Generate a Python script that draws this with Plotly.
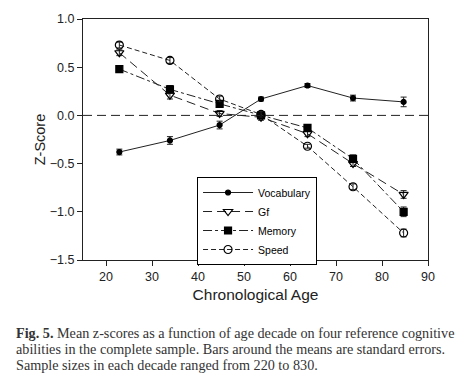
import plotly.graph_objects as go

ages = [22.9, 33.9, 44.7, 53.7, 63.8, 73.7, 84.7]
vocabulary = [-0.38, -0.26, -0.10, 0.17, 0.31, 0.18, 0.14]
vocabulary_se = [0.03, 0.04, 0.04, 0.02, 0.02, 0.03, 0.05]
gf = [0.65, 0.21, 0.02, -0.02, -0.19, -0.50, -0.82]
gf_se = [0.03, 0.04, 0.03, 0.03, 0.03, 0.03, 0.04]
memory = [0.48, 0.27, 0.12, 0.00, -0.13, -0.45, -1.00]
memory_se = [0.03, 0.04, 0.03, 0.03, 0.03, 0.04, 0.05]
speed = [0.73, 0.57, 0.17, 0.01, -0.32, -0.74, -1.22]
speed_se = [0.03, 0.03, 0.03, 0.03, 0.02, 0.03, 0.04]

x_ticks = [20, 30, 40, 50, 60, 70, 80, 90]
y_ticks = [-1.5, -1.0, -0.5, 0.0, 0.5, 1.0]

series = [
    ("Vocabulary", vocabulary, vocabulary_se, "solid", "circle", 5),
    ("Gf", gf, gf_se, "9px,5px", "triangle-down-open", 8),
    ("Memory", memory, memory_se, "9px,3px,3px,3px", "square", 7),
    ("Speed", speed, speed_se, "5px,3px", "circle-open", 8),
]

fig = go.Figure()
for name, vals, se, dash, sym, size in series:
    fig.add_trace(go.Scatter(
        x=ages, y=vals, name=name, mode="lines+markers",
        line=dict(color="#222", width=1, dash=dash),
        marker=dict(symbol=sym, size=size, color="black",
                    line=dict(color="black", width=1.2)),
        error_y=dict(type="data", array=se, visible=True, color="#222",
                     thickness=1, width=3),
    ))

L, R, T, B = 82.5, 47, 19, 131
W, H = 475, 391
ph = H - T - B

fig.add_shape(type="line", xref="paper", yref="y", x0=0, x1=1, y0=0, y1=0,
              line=dict(color="#222", width=1, dash="9px,5px"))

caption_lines = [
    "<b>Fig. 5.</b> Mean z-scores as a function of age decade on four reference cognitive",
    "abilities in the complete sample. Bars around the means are standard errors.",
    "Sample sizes in each decade ranged from 220 to 830.",
]
for i, t in enumerate(caption_lines):
    py = 333 + 16 * i
    fig.add_annotation(
        text=t, xref="paper", yref="paper",
        x=(13 - L) / (W - L - R), y=(H - B - py) / ph,
        xanchor="left", yanchor="middle", showarrow=False,
        font=dict(family="Liberation Serif", size=14.2, color="#333"),
    )

fig.update_layout(
    width=W, height=H,
    margin=dict(l=L, r=R, t=T, b=B, pad=0),
    paper_bgcolor="white", plot_bgcolor="white",
    font=dict(family="Liberation Sans, Arial", color="#222"),
    showlegend=True,
    legend=dict(
        x=(196.7 - L) / (W - L - R), y=(H - B - 177) / ph,
        xanchor="left", yanchor="top",
        bordercolor="black", borderwidth=1, bgcolor="white",
        font=dict(size=10.5, color="black", family="Liberation Sans, Arial"),
        itemwidth=50, tracegroupgap=0,
    ),
    xaxis=dict(
        range=[15, 90], tickvals=x_ticks, ticks="outside", ticklen=5,
        tickcolor="#222", showline=True, linecolor="#222", linewidth=1,
        mirror=True, showgrid=False, zeroline=False,
        tickfont=dict(size=12.5, color="#222"),
        title=dict(text="Chronological Age", font=dict(size=15.5, color="#222"), standoff=6),
    ),
    yaxis=dict(
        range=[-1.5, 1.0], tickvals=y_ticks, tickformat=".1f", ticks="outside",
        ticklen=5, tickcolor="#222", showline=True, linecolor="#222",
        linewidth=1, mirror=True, showgrid=False, zeroline=False,
        tickfont=dict(size=12.5, color="#222"),
        title=dict(text="Z-Score", font=dict(size=14.5, color="#222"), standoff=0),
    ),
)

fig.write_html("out.html", config={"displayModeBar": False},
               post_script="document.body.style.margin='0';")
